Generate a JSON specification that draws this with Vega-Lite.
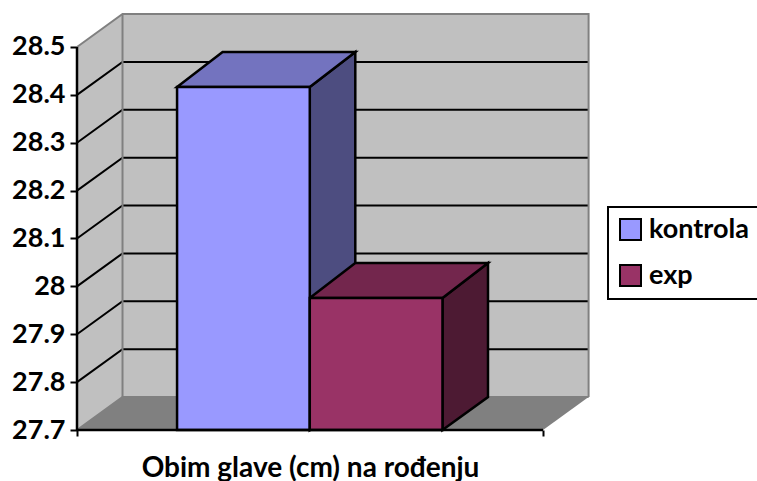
{
"$schema":"https://vega.github.io/schema/vega-lite/v6.json",
"width":680,"height":416,
"autosize":{"type":"none"},
"padding":{"left":77,"top":14,"right":0,"bottom":51},
"background":"white",
"config":{"view":{"stroke":null}},
"datasets":{
"bars":[{"series":"kontrola","x":0.754,"x2":1.754,"y":27.7,"y2":28.4165},{"series":"exp","x":1.754,"x2":2.754,"y":27.7,"y2":27.9757}],
"tops":[{"series":"kontrola","y":28.4165,"x":0.754,"x2":1.754},{"series":"kontrola","y":28.4896,"x":1.097,"x2":2.097},{"series":"exp","y":27.9757,"x":1.754,"x2":2.754},{"series":"exp","y":28.0488,"x":2.097,"x2":3.097}],
"sides":[{"series":"kontrola","x":1.754,"y":27.7,"y2":28.4165},{"series":"kontrola","x":2.097,"y":27.7689,"y2":28.4896},{"series":"exp","x":2.754,"y":27.7,"y2":27.9757},{"series":"exp","x":3.097,"y":27.7689,"y2":28.0488}],
"grid":[
{"tick":27.8,"o":1,"x":0,"y":27.8},{"tick":27.8,"o":2,"x":0.343,"y":27.8689},{"tick":27.8,"o":3,"x":3.855,"y":27.8689},
{"tick":27.9,"o":1,"x":0,"y":27.9},{"tick":27.9,"o":2,"x":0.343,"y":27.9689},{"tick":27.9,"o":3,"x":3.855,"y":27.9689},
{"tick":28.0,"o":1,"x":0,"y":28.0},{"tick":28.0,"o":2,"x":0.343,"y":28.0689},{"tick":28.0,"o":3,"x":3.855,"y":28.0689},
{"tick":28.1,"o":1,"x":0,"y":28.1},{"tick":28.1,"o":2,"x":0.343,"y":28.1689},{"tick":28.1,"o":3,"x":3.855,"y":28.1689},
{"tick":28.2,"o":1,"x":0,"y":28.2},{"tick":28.2,"o":2,"x":0.343,"y":28.2689},{"tick":28.2,"o":3,"x":3.855,"y":28.2689},
{"tick":28.3,"o":1,"x":0,"y":28.3},{"tick":28.3,"o":2,"x":0.343,"y":28.3689},{"tick":28.3,"o":3,"x":3.855,"y":28.3689},
{"tick":28.4,"o":1,"x":0,"y":28.4},{"tick":28.4,"o":2,"x":0.343,"y":28.4689},{"tick":28.4,"o":3,"x":3.855,"y":28.4689}
],
"edges":[
{"edge":"top","o":1,"x":0,"y":28.5},{"edge":"top","o":2,"x":0.343,"y":28.5689},{"edge":"top","o":3,"x":3.855,"y":28.5689},{"edge":"top","o":4,"x":3.855,"y":27.7689},
{"edge":"floor","o":1,"x":0,"y":27.7},{"edge":"floor","o":2,"x":0.343,"y":27.7689},{"edge":"floor","o":3,"x":3.855,"y":27.7689},
{"edge":"corner","o":1,"x":0.343,"y":27.7689},{"edge":"corner","o":2,"x":0.343,"y":28.5689}
],
"axes":[
{"edge":"value","o":1,"x":0,"y":27.7},{"edge":"value","o":2,"x":0,"y":28.5},
{"edge":"category","o":1,"x":0,"y":27.7},{"edge":"category","o":2,"x":3.512,"y":27.7}
]
},
"encoding":{
"x":{"field":"x","type":"quantitative","scale":{"domain":[0,5.124],"nice":false,"zero":false},
"axis":{"title":"Obim glave (cm) na rođenju","titleFont":"Lato","titleFontSize":28,"titleFontWeight":"bold","titleColor":"black","titleX":233,"titleY":24,"titleAnchor":"middle","titleAlign":"center","values":[0,3.512],"labels":false,"domain":false,"grid":false,"tickColor":"black","tickWidth":2,"tickSize":6}},
"y":{"field":"y","type":"quantitative","scale":{"domain":[27.7,28.5689],"nice":false,"zero":false},
"axis":{"title":null,"values":[27.7,27.8,27.9,28,28.1,28.2,28.3,28.4,28.5],"format":"~g","labelFont":"Lato","labelFontSize":27,"labelFontWeight":"bold","labelColor":"black","labelPadding":5,"domain":false,"grid":false,"tickColor":"black","tickWidth":2,"tickSize":7}}
},
"layer":[
{"data":{"values":[{"x":0,"y":27.7,"y2":28.5},{"x":0.343,"y":27.7689,"y2":28.5689}]},"mark":{"type":"area","orient":"vertical","fill":"#c0c0c0"},"encoding":{"y2":{"field":"y2"}}},
{"data":{"values":[{"x":0.343,"x2":3.855,"y":27.7689,"y2":28.5689}]},"mark":{"type":"rect","fill":"#c0c0c0"},"encoding":{"x2":{"field":"x2"},"y2":{"field":"y2"}}},
{"data":{"values":[{"y":27.7,"x":0,"x2":3.512},{"y":27.7689,"x":0.343,"x2":3.855}]},"mark":{"type":"area","orient":"horizontal","fill":"#808080"},"encoding":{"x2":{"field":"x2"}}},
{"data":{"name":"grid"},"mark":{"type":"line","stroke":"black","strokeWidth":2},"encoding":{"detail":{"field":"tick"},"order":{"field":"o"}}},
{"data":{"name":"edges"},"mark":{"type":"line","stroke":"#808080","strokeWidth":2},"encoding":{"detail":{"field":"edge"},"order":{"field":"o"}}},
{"data":{"name":"sides"},"mark":{"type":"area","orient":"vertical","stroke":"black","strokeWidth":2.5},"encoding":{"y2":{"field":"y2"},"color":{"field":"series","type":"nominal","legend":null,"scale":{"domain":["kontrola","exp"],"range":["#4D4D80","#4D1A33"]}}}},
{"data":{"name":"tops"},"mark":{"type":"area","orient":"horizontal","stroke":"black","strokeWidth":2.5},"encoding":{"x2":{"field":"x2"},"color":{"field":"series","type":"nominal","legend":null,"scale":{"domain":["kontrola","exp"],"range":["#7373BF","#73264D"]}}}},
{"data":{"name":"bars"},"mark":{"type":"rect","stroke":"black","strokeWidth":2.5},"encoding":{"x2":{"field":"x2"},"y2":{"field":"y2"},"color":{"field":"series","type":"nominal","scale":{"domain":["kontrola","exp"],"range":["#9999FF","#993366"]},
"legend":{"title":null,"orient":"none","legendX":531,"legendY":193,"fillColor":"white","strokeColor":"black","padding":9,"symbolType":"square","symbolSize":441,"symbolStrokeColor":"black","symbolStrokeWidth":2,"symbolOpacity":1,"labelFont":"Lato","labelFontSize":27,"labelFontWeight":"bold","labelColor":"black","labelLimit":200,"labelOffset":5,"rowPadding":17,"encode":{"legend":{"update":{"strokeWidth":{"value":2}}}}}}}},
{"data":{"name":"axes"},"mark":{"type":"line","stroke":"black","strokeWidth":2.5},"encoding":{"detail":{"field":"edge"},"order":{"field":"o"}}}
],
"resolve":{"scale":{"color":"independent"}}
}
